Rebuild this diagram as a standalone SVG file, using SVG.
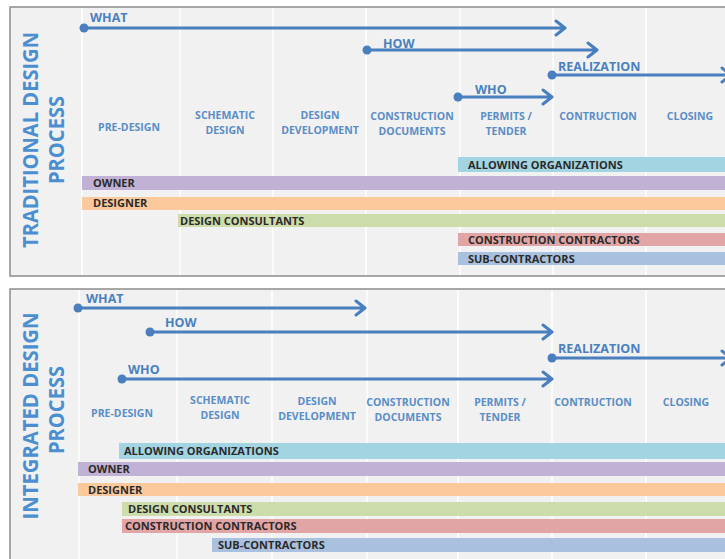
<svg xmlns="http://www.w3.org/2000/svg" width="725" height="559" viewBox="0 0 725 559">
<defs>
<style>
.panel{fill:#f1f1f1;stroke:#8c8c8c;stroke-width:1.5}
.sep{stroke:#fbfbfb;stroke-width:2}
.title{font-family:"Open Sans","Liberation Sans",sans-serif;font-weight:700;font-size:21px;fill:#4b8fd0}
.phase{font-family:"Open Sans","Liberation Sans",sans-serif;font-weight:700;font-size:10.5px;fill:#5a8ec6;text-anchor:middle}
.alab{font-family:"Open Sans","Liberation Sans",sans-serif;font-weight:700;font-size:12.5px;fill:#4a80c0}
.arr{stroke:#4a7fbf;stroke-width:3;fill:none;stroke-linecap:round;stroke-linejoin:round}
.dot{fill:#4a7fbf}
.blab{font-family:"Open Sans","Liberation Sans",sans-serif;font-weight:700;font-size:11px;fill:#2a2a2a}
.cyan{fill:#a3d4e2}.purple{fill:#c1b1d5}.orange{fill:#fcc99d}.green{fill:#cddcab}.red{fill:#e2a5a5}.blue{fill:#a9c1de}
</style>
</defs>
<rect width="725" height="559" fill="#ffffff"/>

<!-- Top panel -->
<g id="panel-traditional">
<rect class="panel" x="10" y="7" width="730" height="269"/>
<g class="sep">
<line x1="82" y1="8" x2="82" y2="275"/>
<line x1="180" y1="8" x2="180" y2="275"/>
<line x1="273" y1="8" x2="273" y2="275"/>
<line x1="366" y1="8" x2="366" y2="275"/>
<line x1="460" y1="8" x2="460" y2="275"/>
<line x1="553" y1="8" x2="553" y2="275"/>
<line x1="646" y1="8" x2="646" y2="275"/>
</g>
<text class="title" transform="translate(38,140) rotate(-90)" text-anchor="middle" textLength="216" lengthAdjust="spacingAndGlyphs">TRADITIONAL DESIGN</text>
<text class="title" transform="translate(64,140) rotate(-90)" text-anchor="middle" textLength="88" lengthAdjust="spacingAndGlyphs">PROCESS</text>
</g>

<g id="phases-traditional">
<text class="phase" x="129" y="131">PRE-DESIGN</text>
<text class="phase" x="225" y="119">SCHEMATIC</text>
<text class="phase" x="225" y="134">DESIGN</text>
<text class="phase" x="320" y="119">DESIGN</text>
<text class="phase" x="320" y="134">DEVELOPMENT</text>
<text class="phase" x="412" y="120">CONSTRUCTION</text>
<text class="phase" x="412" y="135">DOCUMENTS</text>
<text class="phase" x="506" y="120">PERMITS /</text>
<text class="phase" x="506" y="135">TENDER</text>
<text class="phase" x="598" y="120">CONTRUCTION</text>
<text class="phase" x="690" y="120">CLOSING</text>
</g>

<g id="connectors-traditional">
<circle class="dot" cx="84" cy="28" r="4.5"/>
<path class="arr" d="M84,28 H564 M556,21 L565,28 L556,35"/>
<text class="alab" x="90" y="22">WHAT</text>
<circle class="dot" cx="367" cy="50" r="4.5"/>
<path class="arr" d="M367,50 H596 M588,43 L597,50 L588,57"/>
<text class="alab" x="383" y="48">HOW</text>
<circle class="dot" cx="552" cy="75" r="4.5"/>
<path class="arr" d="M552,75 H730 M722,68 L731,75 L722,82"/>
<text class="alab" x="558" y="71">REALIZATION</text>
<circle class="dot" cx="458" cy="97" r="4.5"/>
<path class="arr" d="M458,97 H551 M543,90 L552,97 L543,104"/>
<text class="alab" x="475" y="94">WHO</text>
</g>

<g id="bars-traditional">
<g id="t-allowing"><rect class="cyan" x="458" y="157" width="270" height="15"/><text class="blab" x="468" y="168.5">ALLOWING ORGANIZATIONS</text></g>
<g id="t-owner"><rect class="purple" x="82" y="176" width="646" height="14"/><text class="blab" x="93" y="187">OWNER</text></g>
<g id="t-designer"><rect class="orange" x="82" y="197" width="646" height="13"/><text class="blab" x="93" y="207">DESIGNER</text></g>
<g id="t-consultants"><rect class="green" x="178" y="214" width="550" height="13"/><text class="blab" x="180" y="224.5">DESIGN CONSULTANTS</text></g>
<g id="t-contractors"><rect class="red" x="458" y="233" width="270" height="13"/><text class="blab" x="468" y="243.5">CONSTRUCTION CONTRACTORS</text></g>
<g id="t-sub"><rect class="blue" x="458" y="252" width="270" height="13"/><text class="blab" x="468" y="262.5">SUB-CONTRACTORS</text></g>
</g>

<!-- Bottom panel -->
<g id="panel-integrated">
<rect class="panel" x="10" y="289" width="730" height="280"/>
<g class="sep">
<line x1="79" y1="290" x2="79" y2="559"/>
<line x1="177" y1="290" x2="177" y2="559"/>
<line x1="272" y1="290" x2="272" y2="559"/>
<line x1="367" y1="290" x2="367" y2="559"/>
<line x1="458" y1="290" x2="458" y2="559"/>
<line x1="552" y1="290" x2="552" y2="559"/>
<line x1="646" y1="290" x2="646" y2="559"/>
</g>
<text class="title" transform="translate(38,416) rotate(-90)" text-anchor="middle" textLength="207" lengthAdjust="spacingAndGlyphs">INTEGRATED DESIGN</text>
<text class="title" transform="translate(64,410) rotate(-90)" text-anchor="middle" textLength="88" lengthAdjust="spacingAndGlyphs">PROCESS</text>
</g>

<g id="phases-integrated">
<text class="phase" x="122" y="417">PRE-DESIGN</text>
<text class="phase" x="220" y="404">SCHEMATIC</text>
<text class="phase" x="220" y="419">DESIGN</text>
<text class="phase" x="317" y="405">DESIGN</text>
<text class="phase" x="317" y="420">DEVELOPMENT</text>
<text class="phase" x="408" y="406">CONSTRUCTION</text>
<text class="phase" x="408" y="421">DOCUMENTS</text>
<text class="phase" x="500" y="406">PERMITS /</text>
<text class="phase" x="500" y="421">TENDER</text>
<text class="phase" x="593" y="406">CONTRUCTION</text>
<text class="phase" x="686" y="406">CLOSING</text>
</g>

<g id="connectors-integrated">
<circle class="dot" cx="78" cy="308" r="4.5"/>
<path class="arr" d="M78,308 H364 M356,301 L365,308 L356,315"/>
<text class="alab" x="86" y="303">WHAT</text>
<circle class="dot" cx="150" cy="332" r="4.5"/>
<path class="arr" d="M150,332 H551 M543,325 L552,332 L543,339"/>
<text class="alab" x="165" y="327">HOW</text>
<circle class="dot" cx="552" cy="358" r="4.5"/>
<path class="arr" d="M552,358 H730 M722,351 L731,358 L722,365"/>
<text class="alab" x="558" y="353">REALIZATION</text>
<circle class="dot" cx="122" cy="379" r="4.5"/>
<path class="arr" d="M122,379 H551 M543,372 L552,379 L543,386"/>
<text class="alab" x="128" y="374">WHO</text>
</g>

<g id="bars-integrated">
<g id="i-allowing"><rect class="cyan" x="119" y="443" width="609" height="16"/><text class="blab" x="124" y="455">ALLOWING ORGANIZATIONS</text></g>
<g id="i-owner"><rect class="purple" x="78" y="462" width="650" height="14"/><text class="blab" x="88" y="473">OWNER</text></g>
<g id="i-designer"><rect class="orange" x="78" y="483" width="650" height="13"/><text class="blab" x="88" y="493.5">DESIGNER</text></g>
<g id="i-consultants"><rect class="green" x="122" y="502" width="606" height="14"/><text class="blab" x="128" y="513">DESIGN CONSULTANTS</text></g>
<g id="i-contractors"><rect class="red" x="122" y="519" width="606" height="14"/><text class="blab" x="125" y="530">CONSTRUCTION CONTRACTORS</text></g>
<g id="i-sub"><rect class="blue" x="212" y="538" width="516" height="14"/><text class="blab" x="218" y="549">SUB-CONTRACTORS</text></g>
</g>
</svg>
